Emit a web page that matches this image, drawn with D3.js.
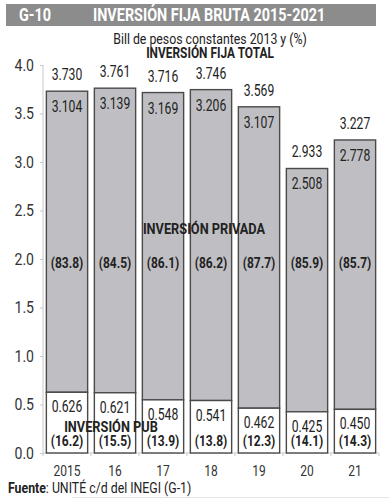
<!DOCTYPE html>
<html>
<head>
<meta charset="utf-8">
<script src="https://cdn.jsdelivr.net/npm/d3@7"></script>
<style>
  body { margin: 0; background: #fff; }
  svg text { font-family: Roboto, "DejaVu Sans Condensed", sans-serif; fill: #222; }
  .axis path, .axis line { stroke: #c8c8c8; }
  .axis text { font-size: 16px; fill: #333; font-family: Roboto, sans-serif; }
</style>
</head>
<body>
<script>
const years = ["2015", "16", "17", "18", "19", "20", "21"];
const total = [3.730, 3.761, 3.716, 3.746, 3.569, 2.933, 3.227];
const privada = [3.104, 3.139, 3.169, 3.206, 3.107, 2.508, 2.778];
const publica = [0.626, 0.621, 0.548, 0.541, 0.462, 0.425, 0.450];
const pctPriv = ["83.8", "84.5", "86.1", "86.2", "87.7", "85.9", "85.7"];
const pctPub = ["16.2", "15.5", "13.9", "13.8", "12.3", "14.1", "14.3"];
const yTicks = [0, 0.5, 1, 1.5, 2, 2.5, 3, 3.5, 4];

const W = 389, H = 500;
const x0 = 43, x1 = 379, yBase = 453, yTop = 65;

var svg = d3.select("body").append("svg")
    .attr("width", W)
    .attr("height", H);

var xScale = d3.scaleBand().domain(years).range([x0, x1]).paddingInner(0.14).paddingOuter(0.07);
var yScale = d3.scaleLinear().domain([0, 4]).range([yBase, yTop]);

// squeeze text horizontally to look like the condensed face of the original
function condense(sel, k) {
    sel.each(function() {
        var w = this.getComputedTextLength();
        d3.select(this).attr("textLength", w * k).attr("lengthAdjust", "spacingAndGlyphs");
    });
}

// title bar
svg.append("rect").attr("x", 6).attr("y", 4).attr("width", 370).attr("height", 22).attr("fill", "#8c8c8c");
svg.append("text").attr("x", 19).attr("y", 21).style("font-size", "18px").style("font-weight", "bold")
    .style("fill", "#fff").text("G-10").call(condense, 0.8);
svg.append("text").attr("x", 93).attr("y", 21).style("font-size", "18px").style("font-weight", "bold")
    .style("fill", "#fff").text("INVERSIÓN FIJA BRUTA 2015-2021").call(condense, 0.8);

svg.append("text").attr("x", 210).attr("y", 44).attr("text-anchor", "middle").style("font-size", "15px")
    .text("Bill de pesos constantes 2013 y (%)").call(condense, 0.82);
svg.append("text").attr("x", 210).attr("y", 58).attr("text-anchor", "middle").style("font-size", "14px")
    .style("font-weight", "bold").text("INVERSIÓN FIJA TOTAL").call(condense, 0.85);

// axes
svg.append("g").attr("class", "axis")
    .attr("transform", "translate(" + x0 + ",0)")
    .call(d3.axisLeft(yScale).tickValues(yTicks).tickFormat(d3.format(".1f")).tickSize(3).tickPadding(6))
    .call(g => g.select(".domain").attr("d", "M0," + yTop + "V" + yBase))
    .call(g => g.selectAll(".tick text").call(condense, 0.88));

var xAxis = svg.append("g").attr("class", "axis")
    .attr("transform", "translate(0," + yBase + ")")
    .call(d3.axisBottom(xScale).tickSize(0).tickPadding(12));
xAxis.select(".domain").attr("d", "M" + x0 + ",0H" + x1);
xAxis.selectAll(".tick text").style("font-size", "15px").call(condense, 0.8);

var step = xScale.step();
svg.append("g").selectAll("line").data(d3.range(years.length + 1)).enter().append("line")
    .attr("x1", d => x0 + d * step).attr("x2", d => x0 + d * step)
    .attr("y1", yBase).attr("y2", yBase + 3)
    .attr("stroke", "#c8c8c8");

// bars
var bars = svg.append("g").selectAll("g").data(years).enter().append("g");

bars.append("rect")
    .attr("x", d => xScale(d))
    .attr("y", (d, i) => yScale(total[i]))
    .attr("width", xScale.bandwidth())
    .attr("height", (d, i) => yScale(publica[i]) - yScale(total[i]))
    .attr("fill", "#bfbfc3")
    .attr("stroke", "#4a4a4a")
    .attr("stroke-width", 1.4);

bars.append("rect")
    .attr("x", d => xScale(d))
    .attr("y", (d, i) => yScale(publica[i]))
    .attr("width", xScale.bandwidth())
    .attr("height", (d, i) => yBase - yScale(publica[i]))
    .attr("fill", "#fff")
    .attr("stroke", "#4a4a4a")
    .attr("stroke-width", 1.4);

var cx = d => xScale(d) + xScale.bandwidth() / 2;

bars.append("text")
    .attr("x", cx).attr("y", (d, i) => yScale(total[i]) - 11)
    .attr("text-anchor", "middle").style("font-size", "16px")
    .text((d, i) => total[i].toFixed(3)).call(condense, 0.76);

bars.append("text")
    .attr("x", cx).attr("y", (d, i) => yScale(total[i]) + 21)
    .attr("text-anchor", "middle").style("font-size", "16px")
    .text((d, i) => privada[i].toFixed(3)).call(condense, 0.76);

bars.append("text")
    .attr("x", cx).attr("y", (d, i) => yScale(publica[i]) + 20)
    .attr("text-anchor", "middle").style("font-size", "16px")
    .text((d, i) => publica[i].toFixed(3)).call(condense, 0.76);

bars.append("text")
    .attr("x", cx).attr("y", 268)
    .attr("text-anchor", "middle").style("font-size", "15px").style("font-weight", "bold")
    .text((d, i) => "(" + pctPriv[i] + ")").call(condense, 0.8);

bars.append("text")
    .attr("x", cx).attr("y", 446)
    .attr("text-anchor", "middle").style("font-size", "15px").style("font-weight", "bold")
    .text((d, i) => "(" + pctPub[i] + ")").call(condense, 0.8);

svg.append("text").attr("x", 204).attr("y", 234).attr("text-anchor", "middle")
    .style("font-size", "15px").style("font-weight", "bold").text("INVERSIÓN PRIVADA").call(condense, 0.85);
svg.append("text").attr("x", 111).attr("y", 432).attr("text-anchor", "middle")
    .style("font-size", "15px").style("font-weight", "bold").text("INVERSIÓN PUB").call(condense, 0.85);

// source
var src = svg.append("text").attr("x", 8).attr("y", 493).style("font-size", "15px");
src.append("tspan").style("font-weight", "bold").text("Fuente");
src.append("tspan").text(": UNITÉ c/d del INEGI (G-1)");
src.call(condense, 0.82);

svg.append("line").attr("x1", 72).attr("x2", 389).attr("y1", 497.5).attr("y2", 497.5)
    .attr("stroke", "#e4e4e4");
</script>
</body>
</html>
